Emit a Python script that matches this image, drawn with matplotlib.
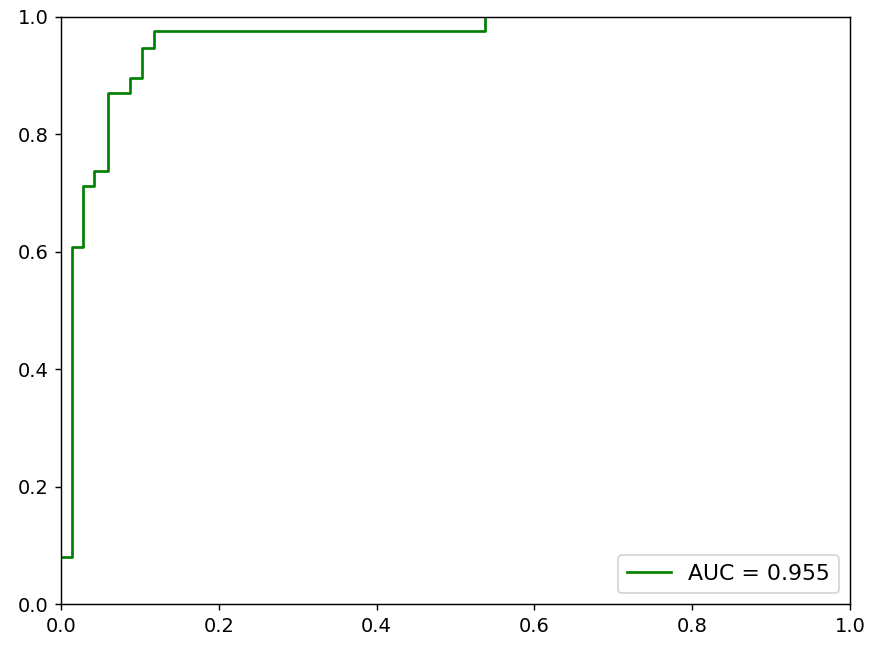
import matplotlib
matplotlib.use("Agg")
import matplotlib.pyplot as plt

# ROC curve points (only the part not hidden under the spines)
fpr = [0.0, 0.0135, 0.0135, 0.0283, 0.0283, 0.0422, 0.0422, 0.0592, 0.0592,
       0.0875, 0.0875, 0.103, 0.103, 0.118, 0.118, 0.537, 0.537]
tpr = [0.0806, 0.0806, 0.608, 0.608, 0.712, 0.712, 0.738, 0.738, 0.871,
       0.871, 0.896, 0.896, 0.947, 0.947, 0.976, 0.976, 1.0]
auc_label = "AUC = 0.955"

dpi = 130
fig = plt.figure(figsize=(871 / dpi, 646 / dpi), dpi=dpi)
ax = fig.add_axes([61 / 871, 42 / 646, 789 / 871, 587 / 646])

ax.plot(fpr, tpr, color="green", label=auc_label)
ax.set_xlim(0, 1)
ax.set_ylim(0, 1)
ax.tick_params(labelsize=10.8)
ax.legend(loc="lower right", fontsize=12.2)

fig.savefig("out.png", dpi=dpi)
